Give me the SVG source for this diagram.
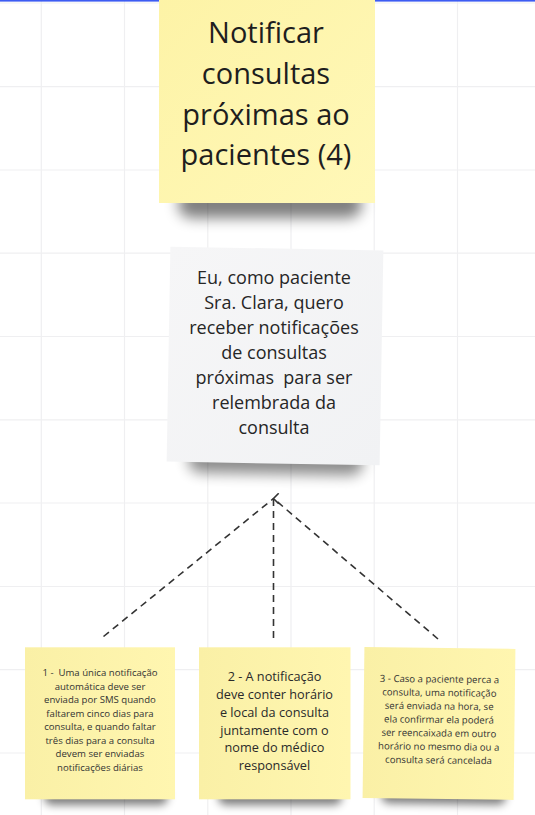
<svg xmlns="http://www.w3.org/2000/svg" width="535" height="815" viewBox="0 0 535 815">
<style>
text{font-family:"Open Sans","Noto Sans","Liberation Sans",sans-serif;text-anchor:middle;white-space:pre}
.grid line{stroke:#efeff1;stroke-width:1.2}
.big{font-size:29px;fill:#1e1e1e}
.mid{font-size:18px;fill:#262626}
.s1{font-size:9.6px;fill:#333}
.s2{font-size:12.7px;fill:#2a2a2a}
.conn{stroke:#333;stroke-width:1.6;stroke-dasharray:7 5;fill:none}
.sh{fill:#000;filter:url(#blur)}
.shs{fill:#000;filter:url(#blurs)}
</style>
<defs>
<filter id="blur" x="-30%" y="-100%" width="160%" height="300%"><feGaussianBlur stdDeviation="7"/></filter>
<filter id="blurs" x="-30%" y="-100%" width="160%" height="300%"><feGaussianBlur stdDeviation="4.5"/></filter>
<linearGradient id="yel" x1="0" y1="0" x2="1" y2="1"><stop offset="0" stop-color="#fdf3a6"/><stop offset="1" stop-color="#fff8b8"/></linearGradient>
<linearGradient id="yel2" x1="0" y1="0" x2="1" y2="0"><stop offset="0" stop-color="#faf0a6"/><stop offset="1" stop-color="#fff6b0"/></linearGradient>
<linearGradient id="gry" x1="0" y1="0" x2="1" y2="1"><stop offset="0" stop-color="#f6f6f7"/><stop offset="1" stop-color="#f1f2f4"/></linearGradient>
<marker id="arr" markerWidth="12" markerHeight="12" refX="6" refY="6" orient="auto" markerUnits="userSpaceOnUse"><path d="M0.8,11.2 L6,6 L11.2,11.2" fill="none" stroke="#333" stroke-width="1.6"/></marker>
</defs>
<rect width="535" height="815" fill="#fff"/>
<g class="grid">
<line x1="41.3" y1="0" x2="41.3" y2="815"/><line x1="124.5" y1="0" x2="124.5" y2="815"/><line x1="207.8" y1="0" x2="207.8" y2="815"/><line x1="291" y1="0" x2="291" y2="815"/><line x1="374.2" y1="0" x2="374.2" y2="815"/><line x1="457.5" y1="0" x2="457.5" y2="815"/>
<line x1="0" y1="3" x2="535" y2="3"/><line x1="0" y1="86.6" x2="535" y2="86.6"/><line x1="0" y1="170" x2="535" y2="170"/><line x1="0" y1="253.2" x2="535" y2="253.2"/><line x1="0" y1="336.5" x2="535" y2="336.5"/><line x1="0" y1="419.8" x2="535" y2="419.8"/><line x1="0" y1="503" x2="535" y2="503"/><line x1="0" y1="586.5" x2="535" y2="586.5"/><line x1="0" y1="669.6" x2="535" y2="669.6"/><line x1="0" y1="753" x2="535" y2="753"/>
</g>
<rect x="0" y="0" width="535" height="1.6" fill="#3d5cf2"/>
<g id="connectors">
<line class="conn" x1="103.5" y1="636.5" x2="273.5" y2="498.5"/>
<line class="conn" x1="438" y1="639" x2="273.5" y2="498.5"/>
<line class="conn" x1="273.5" y1="638" x2="273.5" y2="498.5" marker-end="url(#arr)"/>
</g>
<g id="node-title">
<rect class="sh" x="178" y="190" width="184" height="28" rx="14" opacity="0.5"/>
<rect x="159" y="-5" width="216" height="208" fill="url(#yel)"/>
<text class="big" x="266" y="43.3">Notificar</text>
<text class="big" x="266" y="84">consultas</text>
<text class="big" x="266" y="124.6">próximas ao</text>
<text class="big" x="266" y="165.3">pacientes (4)</text>
</g>
<g id="node-story">
<rect class="sh" x="190" y="448" width="175" height="26" rx="13" opacity="0.45" transform="rotate(1 275 356)"/>
<rect x="168.5" y="248.5" width="213" height="215" fill="url(#gry)" transform="rotate(1 275 356)"/>
<text class="mid" x="274" y="284.3">Eu, como paciente</text>
<text class="mid" x="274" y="309.3">Sra. Clara, quero</text>
<text class="mid" x="274" y="334.3">receber notificações</text>
<text class="mid" x="274" y="359.3">de consultas</text>
<text class="mid" x="274" y="384.3">próximas  para ser</text>
<text class="mid" x="274" y="409.3">relembrada da</text>
<text class="mid" x="274" y="434.3">consulta</text>
</g>
<g id="node-c1">
<rect class="shs" x="44" y="789" width="124" height="16" rx="8" opacity="0.5"/>
<rect x="25" y="647.3" width="150" height="152" fill="url(#yel2)"/>
<text class="s1" x="100" y="676">1 -  Uma única notificação</text>
<text class="s1" x="100" y="689.5">automática deve ser</text>
<text class="s1" x="100" y="703">enviada por SMS quando</text>
<text class="s1" x="100" y="716.5">faltarem cinco dias para</text>
<text class="s1" x="100" y="730">consulta, e quando faltar</text>
<text class="s1" x="100" y="743.5">três dias para a consulta</text>
<text class="s1" x="100" y="757">devem ser enviadas</text>
<text class="s1" x="100" y="770.5">notificações diárias</text>
</g>
<g id="node-c2">
<rect class="shs" x="218" y="789" width="124" height="16" rx="8" opacity="0.5"/>
<rect x="199" y="647.3" width="151.5" height="152" fill="url(#yel2)"/>
<text class="s2" x="274.5" y="681">2 - A notificação</text>
<text class="s2" x="274.5" y="699">deve conter horário</text>
<text class="s2" x="274.5" y="716.8">e local da consulta</text>
<text class="s2" x="274.5" y="734.6">juntamente com o</text>
<text class="s2" x="274.5" y="752.4">nome do médico</text>
<text class="s2" x="274.5" y="770.2">responsável</text>
</g>
<g id="node-c3" transform="rotate(0.7 439 723.5)">
<rect class="shs" x="382" y="788" width="125" height="16" rx="8" opacity="0.5"/>
<rect x="363.5" y="648" width="151" height="151" fill="url(#yel2)"/>
<text class="s1" x="439" y="682.5">3 - Caso a paciente perca a</text>
<text class="s1" x="439" y="696">consulta, uma notificação</text>
<text class="s1" x="439" y="709.5">será enviada na hora, se</text>
<text class="s1" x="439" y="723">ela confirmar ela poderá</text>
<text class="s1" x="439" y="736.5">ser reencaixada em outro</text>
<text class="s1" x="439" y="750">horário no mesmo dia ou a</text>
<text class="s1" x="439" y="763.5">consulta será cancelada</text>
</g>
</svg>
